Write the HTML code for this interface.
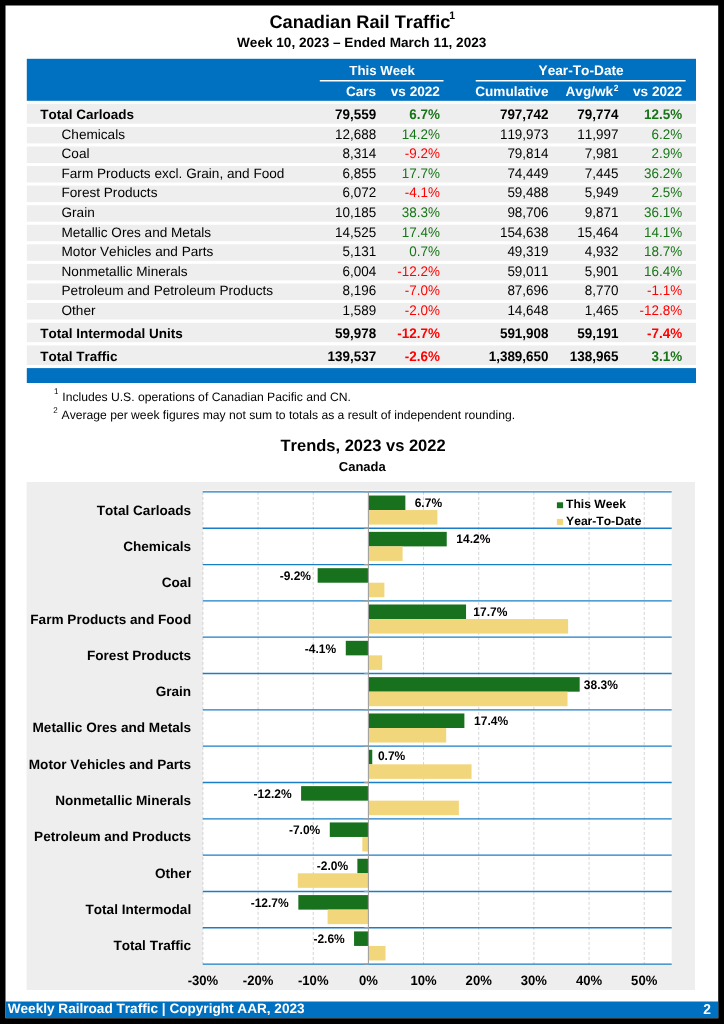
<!DOCTYPE html>
<html><head><meta charset="utf-8"><title>Canadian Rail Traffic</title>
<style>
html,body{margin:0;padding:0;background:#000;}
body{width:724px;height:1024px;overflow:hidden;}
svg{display:block;font-family:'Liberation Sans', Arial, sans-serif;will-change:transform;text-rendering:geometricPrecision;font-kerning:none;}
</style></head><body>
<svg width="724" height="1024" viewBox="0 0 724 1024">
<rect x="0.00" y="0.00" width="724.00" height="1024.00" fill="#000" />
<rect x="5.50" y="5.50" width="712.70" height="1012.70" fill="#fff" />
<text x="269.40" y="28.00" font-size="18.2" font-weight="bold" fill="#000" id="t1">Canadian Rail Traffic</text>
<text transform="translate(449.30 19.30) scale(1 1.04)" font-size="10.5" font-weight="bold" fill="#000" id="t1s">1</text>
<text x="361.70" y="47.10" font-size="13.6" font-weight="bold" text-anchor="middle" fill="#000" id="t2">Week 10, 2023 – Ended March 11, 2023</text>
<rect x="26.80" y="58.80" width="669.20" height="42.00" fill="#0070C0" />
<line x1="319.80" y1="80.80" x2="443.50" y2="80.80" stroke="#fff" stroke-width="1.5" />
<line x1="475.70" y1="80.80" x2="685.60" y2="80.80" stroke="#fff" stroke-width="1.5" />
<text x="382.10" y="74.50" font-size="13.25" font-weight="bold" text-anchor="middle" fill="#fff" >This Week</text>
<text x="581.10" y="74.50" font-size="13.7" font-weight="bold" text-anchor="middle" fill="#fff" >Year-To-Date</text>
<text x="376.20" y="96.30" font-size="13.6" font-weight="bold" text-anchor="end" fill="#fff" >Cars</text>
<text x="439.90" y="96.30" font-size="13.6" font-weight="bold" text-anchor="end" fill="#fff" >vs 2022</text>
<text x="548.50" y="96.30" font-size="13.6" font-weight="bold" text-anchor="end" fill="#fff" >Cumulative</text>
<text x="613.10" y="96.30" font-size="13.6" font-weight="bold" text-anchor="end" fill="#fff" >Avg/wk</text>
<text transform="translate(618.60 90.70) scale(1 1.04)" font-size="8.5" font-weight="bold" text-anchor="end" fill="#fff" >2</text>
<text x="682.20" y="96.30" font-size="13.6" font-weight="bold" text-anchor="end" fill="#fff" >vs 2022</text>
<rect x="26.80" y="103.80" width="669.20" height="19.90" fill="#EEEEEE" />
<text x="40.30" y="119.00" font-size="13.5" font-weight="bold" fill="#000" >Total Carloads</text>
<text transform="translate(376.20 119.00) scale(1 1.04)" font-size="13.45" font-weight="bold" text-anchor="end" fill="#000" >79,559</text>
<text transform="translate(439.90 119.00) scale(1 1.04)" font-size="13.45" font-weight="bold" text-anchor="end" fill="#167516" >6.7%</text>
<text transform="translate(548.50 119.00) scale(1 1.04)" font-size="13.45" font-weight="bold" text-anchor="end" fill="#000" >797,742</text>
<text transform="translate(618.40 119.00) scale(1 1.04)" font-size="13.45" font-weight="bold" text-anchor="end" fill="#000" >79,774</text>
<text transform="translate(682.20 119.00) scale(1 1.04)" font-size="13.45" font-weight="bold" text-anchor="end" fill="#167516" >12.5%</text>
<rect x="26.80" y="126.90" width="669.20" height="16.50" fill="#EEEEEE" />
<text x="61.50" y="138.70" font-size="13.6" fill="#000" >Chemicals</text>
<text transform="translate(376.20 138.70) scale(1 1.04)" font-size="13.45" text-anchor="end" fill="#000" >12,688</text>
<text transform="translate(439.90 138.70) scale(1 1.04)" font-size="13.45" text-anchor="end" fill="#167516" >14.2%</text>
<text transform="translate(548.50 138.70) scale(1 1.04)" font-size="13.45" text-anchor="end" fill="#000" >119,973</text>
<text transform="translate(618.40 138.70) scale(1 1.04)" font-size="13.45" text-anchor="end" fill="#000" >11,997</text>
<text transform="translate(682.20 138.70) scale(1 1.04)" font-size="13.45" text-anchor="end" fill="#167516" >6.2%</text>
<rect x="26.80" y="146.47" width="669.20" height="16.50" fill="#EEEEEE" />
<text x="61.50" y="158.27" font-size="13.6" fill="#000" >Coal</text>
<text transform="translate(376.20 158.27) scale(1 1.04)" font-size="13.45" text-anchor="end" fill="#000" >8,314</text>
<text transform="translate(439.90 158.27) scale(1 1.04)" font-size="13.45" text-anchor="end" fill="#FF0000" >-9.2%</text>
<text transform="translate(548.50 158.27) scale(1 1.04)" font-size="13.45" text-anchor="end" fill="#000" >79,814</text>
<text transform="translate(618.40 158.27) scale(1 1.04)" font-size="13.45" text-anchor="end" fill="#000" >7,981</text>
<text transform="translate(682.20 158.27) scale(1 1.04)" font-size="13.45" text-anchor="end" fill="#167516" >2.9%</text>
<rect x="26.80" y="166.04" width="669.20" height="16.50" fill="#EEEEEE" />
<text x="61.50" y="177.84" font-size="13.6" fill="#000" >Farm Products excl. Grain, and Food</text>
<text transform="translate(376.20 177.84) scale(1 1.04)" font-size="13.45" text-anchor="end" fill="#000" >6,855</text>
<text transform="translate(439.90 177.84) scale(1 1.04)" font-size="13.45" text-anchor="end" fill="#167516" >17.7%</text>
<text transform="translate(548.50 177.84) scale(1 1.04)" font-size="13.45" text-anchor="end" fill="#000" >74,449</text>
<text transform="translate(618.40 177.84) scale(1 1.04)" font-size="13.45" text-anchor="end" fill="#000" >7,445</text>
<text transform="translate(682.20 177.84) scale(1 1.04)" font-size="13.45" text-anchor="end" fill="#167516" >36.2%</text>
<rect x="26.80" y="185.61" width="669.20" height="16.50" fill="#EEEEEE" />
<text x="61.50" y="197.41" font-size="13.6" fill="#000" >Forest Products</text>
<text transform="translate(376.20 197.41) scale(1 1.04)" font-size="13.45" text-anchor="end" fill="#000" >6,072</text>
<text transform="translate(439.90 197.41) scale(1 1.04)" font-size="13.45" text-anchor="end" fill="#FF0000" >-4.1%</text>
<text transform="translate(548.50 197.41) scale(1 1.04)" font-size="13.45" text-anchor="end" fill="#000" >59,488</text>
<text transform="translate(618.40 197.41) scale(1 1.04)" font-size="13.45" text-anchor="end" fill="#000" >5,949</text>
<text transform="translate(682.20 197.41) scale(1 1.04)" font-size="13.45" text-anchor="end" fill="#167516" >2.5%</text>
<rect x="26.80" y="205.18" width="669.20" height="16.50" fill="#EEEEEE" />
<text x="61.50" y="216.98" font-size="13.6" fill="#000" >Grain</text>
<text transform="translate(376.20 216.98) scale(1 1.04)" font-size="13.45" text-anchor="end" fill="#000" >10,185</text>
<text transform="translate(439.90 216.98) scale(1 1.04)" font-size="13.45" text-anchor="end" fill="#167516" >38.3%</text>
<text transform="translate(548.50 216.98) scale(1 1.04)" font-size="13.45" text-anchor="end" fill="#000" >98,706</text>
<text transform="translate(618.40 216.98) scale(1 1.04)" font-size="13.45" text-anchor="end" fill="#000" >9,871</text>
<text transform="translate(682.20 216.98) scale(1 1.04)" font-size="13.45" text-anchor="end" fill="#167516" >36.1%</text>
<rect x="26.80" y="224.75" width="669.20" height="16.50" fill="#EEEEEE" />
<text x="61.50" y="236.55" font-size="13.6" fill="#000" >Metallic Ores and Metals</text>
<text transform="translate(376.20 236.55) scale(1 1.04)" font-size="13.45" text-anchor="end" fill="#000" >14,525</text>
<text transform="translate(439.90 236.55) scale(1 1.04)" font-size="13.45" text-anchor="end" fill="#167516" >17.4%</text>
<text transform="translate(548.50 236.55) scale(1 1.04)" font-size="13.45" text-anchor="end" fill="#000" >154,638</text>
<text transform="translate(618.40 236.55) scale(1 1.04)" font-size="13.45" text-anchor="end" fill="#000" >15,464</text>
<text transform="translate(682.20 236.55) scale(1 1.04)" font-size="13.45" text-anchor="end" fill="#167516" >14.1%</text>
<rect x="26.80" y="244.32" width="669.20" height="16.50" fill="#EEEEEE" />
<text x="61.50" y="256.12" font-size="13.6" fill="#000" >Motor Vehicles and Parts</text>
<text transform="translate(376.20 256.12) scale(1 1.04)" font-size="13.45" text-anchor="end" fill="#000" >5,131</text>
<text transform="translate(439.90 256.12) scale(1 1.04)" font-size="13.45" text-anchor="end" fill="#167516" >0.7%</text>
<text transform="translate(548.50 256.12) scale(1 1.04)" font-size="13.45" text-anchor="end" fill="#000" >49,319</text>
<text transform="translate(618.40 256.12) scale(1 1.04)" font-size="13.45" text-anchor="end" fill="#000" >4,932</text>
<text transform="translate(682.20 256.12) scale(1 1.04)" font-size="13.45" text-anchor="end" fill="#167516" >18.7%</text>
<rect x="26.80" y="263.89" width="669.20" height="16.50" fill="#EEEEEE" />
<text x="61.50" y="275.69" font-size="13.6" fill="#000" >Nonmetallic Minerals</text>
<text transform="translate(376.20 275.69) scale(1 1.04)" font-size="13.45" text-anchor="end" fill="#000" >6,004</text>
<text transform="translate(439.90 275.69) scale(1 1.04)" font-size="13.45" text-anchor="end" fill="#FF0000" >-12.2%</text>
<text transform="translate(548.50 275.69) scale(1 1.04)" font-size="13.45" text-anchor="end" fill="#000" >59,011</text>
<text transform="translate(618.40 275.69) scale(1 1.04)" font-size="13.45" text-anchor="end" fill="#000" >5,901</text>
<text transform="translate(682.20 275.69) scale(1 1.04)" font-size="13.45" text-anchor="end" fill="#167516" >16.4%</text>
<rect x="26.80" y="283.46" width="669.20" height="16.50" fill="#EEEEEE" />
<text x="61.50" y="295.26" font-size="13.6" fill="#000" >Petroleum and Petroleum Products</text>
<text transform="translate(376.20 295.26) scale(1 1.04)" font-size="13.45" text-anchor="end" fill="#000" >8,196</text>
<text transform="translate(439.90 295.26) scale(1 1.04)" font-size="13.45" text-anchor="end" fill="#FF0000" >-7.0%</text>
<text transform="translate(548.50 295.26) scale(1 1.04)" font-size="13.45" text-anchor="end" fill="#000" >87,696</text>
<text transform="translate(618.40 295.26) scale(1 1.04)" font-size="13.45" text-anchor="end" fill="#000" >8,770</text>
<text transform="translate(682.20 295.26) scale(1 1.04)" font-size="13.45" text-anchor="end" fill="#FF0000" >-1.1%</text>
<rect x="26.80" y="303.03" width="669.20" height="16.50" fill="#EEEEEE" />
<text x="61.50" y="314.83" font-size="13.6" fill="#000" >Other</text>
<text transform="translate(376.20 314.83) scale(1 1.04)" font-size="13.45" text-anchor="end" fill="#000" >1,589</text>
<text transform="translate(439.90 314.83) scale(1 1.04)" font-size="13.45" text-anchor="end" fill="#FF0000" >-2.0%</text>
<text transform="translate(548.50 314.83) scale(1 1.04)" font-size="13.45" text-anchor="end" fill="#000" >14,648</text>
<text transform="translate(618.40 314.83) scale(1 1.04)" font-size="13.45" text-anchor="end" fill="#000" >1,465</text>
<text transform="translate(682.20 314.83) scale(1 1.04)" font-size="13.45" text-anchor="end" fill="#FF0000" >-12.8%</text>
<rect x="26.80" y="322.80" width="669.20" height="19.40" fill="#EEEEEE" />
<text x="40.30" y="338.00" font-size="13.5" font-weight="bold" fill="#000" >Total Intermodal Units</text>
<text transform="translate(376.20 338.00) scale(1 1.04)" font-size="13.45" font-weight="bold" text-anchor="end" fill="#000" >59,978</text>
<text transform="translate(439.90 338.00) scale(1 1.04)" font-size="13.45" font-weight="bold" text-anchor="end" fill="#FF0000" >-12.7%</text>
<text transform="translate(548.50 338.00) scale(1 1.04)" font-size="13.45" font-weight="bold" text-anchor="end" fill="#000" >591,908</text>
<text transform="translate(618.40 338.00) scale(1 1.04)" font-size="13.45" font-weight="bold" text-anchor="end" fill="#000" >59,191</text>
<text transform="translate(682.20 338.00) scale(1 1.04)" font-size="13.45" font-weight="bold" text-anchor="end" fill="#FF0000" >-7.4%</text>
<rect x="26.80" y="345.40" width="669.20" height="19.60" fill="#EEEEEE" />
<text x="40.30" y="360.70" font-size="13.5" font-weight="bold" fill="#000" >Total Traffic</text>
<text transform="translate(376.20 360.70) scale(1 1.04)" font-size="13.45" font-weight="bold" text-anchor="end" fill="#000" >139,537</text>
<text transform="translate(439.90 360.70) scale(1 1.04)" font-size="13.45" font-weight="bold" text-anchor="end" fill="#FF0000" >-2.6%</text>
<text transform="translate(548.50 360.70) scale(1 1.04)" font-size="13.45" font-weight="bold" text-anchor="end" fill="#000" >1,389,650</text>
<text transform="translate(618.40 360.70) scale(1 1.04)" font-size="13.45" font-weight="bold" text-anchor="end" fill="#000" >138,965</text>
<text transform="translate(682.20 360.70) scale(1 1.04)" font-size="13.45" font-weight="bold" text-anchor="end" fill="#167516" >3.1%</text>
<rect x="26.80" y="368.10" width="669.20" height="14.90" fill="#0070C0" />
<text transform="translate(53.90 394.40) scale(1 1.04)" font-size="8" fill="#000" >1</text>
<text x="62.30" y="400.50" font-size="12.17" fill="#000" >Includes U.S. operations of Canadian Pacific and CN.</text>
<text transform="translate(53.30 412.70) scale(1 1.04)" font-size="8" fill="#000" >2</text>
<text x="61.60" y="418.60" font-size="12.15" fill="#000" >Average per week figures may not sum to totals as a result of independent rounding.</text>
<text x="280.50" y="450.50" font-size="16.5" font-weight="bold" fill="#000" >Trends, 2023 vs 2022</text>
<text x="338.80" y="471.20" font-size="13.0" font-weight="bold" fill="#000" >Canada</text>
<rect x="26.60" y="482.00" width="668.40" height="508.00" fill="#EEEEEE" />
<rect x="202.80" y="490.40" width="468.90" height="473.70" fill="#fff" />
<line x1="202.91" y1="491.90" x2="202.91" y2="964.10" stroke="#CCCCCC" stroke-width="0.85" stroke-dasharray="3,2"/>
<line x1="258.07" y1="491.90" x2="258.07" y2="964.10" stroke="#CCCCCC" stroke-width="0.85" stroke-dasharray="3,2"/>
<line x1="313.24" y1="491.90" x2="313.24" y2="964.10" stroke="#CCCCCC" stroke-width="0.85" stroke-dasharray="3,2"/>
<line x1="423.56" y1="491.90" x2="423.56" y2="964.10" stroke="#CCCCCC" stroke-width="0.85" stroke-dasharray="3,2"/>
<line x1="478.73" y1="491.90" x2="478.73" y2="964.10" stroke="#CCCCCC" stroke-width="0.85" stroke-dasharray="3,2"/>
<line x1="533.89" y1="491.90" x2="533.89" y2="964.10" stroke="#CCCCCC" stroke-width="0.85" stroke-dasharray="3,2"/>
<line x1="589.06" y1="491.90" x2="589.06" y2="964.10" stroke="#CCCCCC" stroke-width="0.85" stroke-dasharray="3,2"/>
<line x1="644.22" y1="491.90" x2="644.22" y2="964.10" stroke="#CCCCCC" stroke-width="0.85" stroke-dasharray="3,2"/>
<rect x="368.40" y="495.53" width="36.96" height="14.53" fill="#17711D" />
<rect x="368.40" y="510.06" width="68.96" height="14.53" fill="#F2D67C" />
<text x="191.20" y="514.85" font-size="13.6" font-weight="bold" text-anchor="end" fill="#000" >Total Carloads</text>
<text transform="translate(414.70 507.30) scale(1 1.04)" font-size="12" font-weight="bold" fill="#000" >6.7%</text>
<rect x="368.40" y="531.86" width="78.33" height="14.53" fill="#17711D" />
<rect x="368.40" y="546.38" width="34.20" height="14.53" fill="#F2D67C" />
<text x="191.20" y="551.12" font-size="13.6" font-weight="bold" text-anchor="end" fill="#000" >Chemicals</text>
<text transform="translate(456.30 543.32) scale(1 1.04)" font-size="12" font-weight="bold" fill="#000" >14.2%</text>
<rect x="317.65" y="568.18" width="50.75" height="14.53" fill="#17711D" />
<rect x="368.40" y="582.71" width="16.00" height="14.53" fill="#F2D67C" />
<text x="191.20" y="587.39" font-size="13.6" font-weight="bold" text-anchor="end" fill="#000" >Coal</text>
<text transform="translate(311.00 580.05) scale(1 1.04)" font-size="12" font-weight="bold" text-anchor="end" fill="#000" >-9.2%</text>
<rect x="368.40" y="604.50" width="97.64" height="14.53" fill="#17711D" />
<rect x="368.40" y="619.03" width="199.70" height="14.53" fill="#F2D67C" />
<text x="191.20" y="623.66" font-size="13.6" font-weight="bold" text-anchor="end" fill="#000" >Farm Products and Food</text>
<text transform="translate(473.30 616.27) scale(1 1.04)" font-size="12" font-weight="bold" fill="#000" >17.7%</text>
<rect x="345.78" y="640.82" width="22.62" height="14.53" fill="#17711D" />
<rect x="368.40" y="655.35" width="13.79" height="14.53" fill="#F2D67C" />
<text x="191.20" y="659.93" font-size="13.6" font-weight="bold" text-anchor="end" fill="#000" >Forest Products</text>
<text transform="translate(336.10 652.89) scale(1 1.04)" font-size="12" font-weight="bold" text-anchor="end" fill="#000" >-4.1%</text>
<rect x="368.40" y="677.15" width="211.28" height="14.53" fill="#17711D" />
<rect x="368.40" y="691.68" width="199.14" height="14.53" fill="#F2D67C" />
<text x="191.20" y="696.20" font-size="13.6" font-weight="bold" text-anchor="end" fill="#000" >Grain</text>
<text transform="translate(583.80 689.22) scale(1 1.04)" font-size="12" font-weight="bold" fill="#000" >38.3%</text>
<rect x="368.40" y="713.47" width="95.99" height="14.53" fill="#17711D" />
<rect x="368.40" y="728.00" width="77.78" height="14.53" fill="#F2D67C" />
<text x="191.20" y="732.47" font-size="13.6" font-weight="bold" text-anchor="end" fill="#000" >Metallic Ores and Metals</text>
<text transform="translate(474.10 725.04) scale(1 1.04)" font-size="12" font-weight="bold" fill="#000" >17.4%</text>
<rect x="368.40" y="749.79" width="3.86" height="14.53" fill="#17711D" />
<rect x="368.40" y="764.32" width="103.16" height="14.53" fill="#F2D67C" />
<text x="191.20" y="768.74" font-size="13.6" font-weight="bold" text-anchor="end" fill="#000" >Motor Vehicles and Parts</text>
<text transform="translate(377.90 760.36) scale(1 1.04)" font-size="12" font-weight="bold" fill="#000" >0.7%</text>
<rect x="301.10" y="786.12" width="67.30" height="14.53" fill="#17711D" />
<rect x="368.40" y="800.65" width="90.47" height="14.53" fill="#F2D67C" />
<text x="191.20" y="805.01" font-size="13.6" font-weight="bold" text-anchor="end" fill="#000" >Nonmetallic Minerals</text>
<text transform="translate(291.60 797.88) scale(1 1.04)" font-size="12" font-weight="bold" text-anchor="end" fill="#000" >-12.2%</text>
<rect x="329.78" y="822.44" width="38.62" height="14.53" fill="#17711D" />
<rect x="362.33" y="836.97" width="6.07" height="14.53" fill="#F2D67C" />
<text x="191.20" y="841.28" font-size="13.6" font-weight="bold" text-anchor="end" fill="#000" >Petroleum and Products</text>
<text transform="translate(320.30 834.01) scale(1 1.04)" font-size="12" font-weight="bold" text-anchor="end" fill="#000" >-7.0%</text>
<rect x="357.37" y="858.76" width="11.03" height="14.53" fill="#17711D" />
<rect x="297.79" y="873.29" width="70.61" height="14.53" fill="#F2D67C" />
<text x="191.20" y="877.55" font-size="13.6" font-weight="bold" text-anchor="end" fill="#000" >Other</text>
<text transform="translate(348.10 869.73) scale(1 1.04)" font-size="12" font-weight="bold" text-anchor="end" fill="#000" >-2.0%</text>
<rect x="298.34" y="895.09" width="70.06" height="14.53" fill="#17711D" />
<rect x="327.58" y="909.62" width="40.82" height="14.53" fill="#F2D67C" />
<text x="191.20" y="913.82" font-size="13.6" font-weight="bold" text-anchor="end" fill="#000" >Total Intermodal</text>
<text transform="translate(288.70 906.95) scale(1 1.04)" font-size="12" font-weight="bold" text-anchor="end" fill="#000" >-12.7%</text>
<rect x="354.06" y="931.41" width="14.34" height="14.53" fill="#17711D" />
<rect x="368.40" y="945.94" width="17.10" height="14.53" fill="#F2D67C" />
<text x="191.20" y="950.09" font-size="13.6" font-weight="bold" text-anchor="end" fill="#000" >Total Traffic</text>
<text transform="translate(344.80 943.18) scale(1 1.04)" font-size="12" font-weight="bold" text-anchor="end" fill="#000" >-2.6%</text>
<line x1="202.80" y1="491.90" x2="671.70" y2="491.90" stroke="#0070C0" stroke-width="1.35" stroke-opacity="0.9"/>
<line x1="364.20" y1="491.90" x2="368.40" y2="491.90" stroke="#A0A0A0" stroke-width="1.2" />
<line x1="202.80" y1="528.22" x2="671.70" y2="528.22" stroke="#0070C0" stroke-width="1.35" stroke-opacity="0.9"/>
<line x1="364.20" y1="528.22" x2="368.40" y2="528.22" stroke="#A0A0A0" stroke-width="1.2" />
<line x1="202.80" y1="564.55" x2="671.70" y2="564.55" stroke="#0070C0" stroke-width="1.35" stroke-opacity="0.9"/>
<line x1="364.20" y1="564.55" x2="368.40" y2="564.55" stroke="#A0A0A0" stroke-width="1.2" />
<line x1="202.80" y1="600.87" x2="671.70" y2="600.87" stroke="#0070C0" stroke-width="1.35" stroke-opacity="0.9"/>
<line x1="364.20" y1="600.87" x2="368.40" y2="600.87" stroke="#A0A0A0" stroke-width="1.2" />
<line x1="202.80" y1="637.19" x2="671.70" y2="637.19" stroke="#0070C0" stroke-width="1.35" stroke-opacity="0.9"/>
<line x1="364.20" y1="637.19" x2="368.40" y2="637.19" stroke="#A0A0A0" stroke-width="1.2" />
<line x1="202.80" y1="673.52" x2="671.70" y2="673.52" stroke="#0070C0" stroke-width="1.35" stroke-opacity="0.9"/>
<line x1="364.20" y1="673.52" x2="368.40" y2="673.52" stroke="#A0A0A0" stroke-width="1.2" />
<line x1="202.80" y1="709.84" x2="671.70" y2="709.84" stroke="#0070C0" stroke-width="1.35" stroke-opacity="0.9"/>
<line x1="364.20" y1="709.84" x2="368.40" y2="709.84" stroke="#A0A0A0" stroke-width="1.2" />
<line x1="202.80" y1="746.16" x2="671.70" y2="746.16" stroke="#0070C0" stroke-width="1.35" stroke-opacity="0.9"/>
<line x1="364.20" y1="746.16" x2="368.40" y2="746.16" stroke="#A0A0A0" stroke-width="1.2" />
<line x1="202.80" y1="782.48" x2="671.70" y2="782.48" stroke="#0070C0" stroke-width="1.35" stroke-opacity="0.9"/>
<line x1="364.20" y1="782.48" x2="368.40" y2="782.48" stroke="#A0A0A0" stroke-width="1.2" />
<line x1="202.80" y1="818.81" x2="671.70" y2="818.81" stroke="#0070C0" stroke-width="1.35" stroke-opacity="0.9"/>
<line x1="364.20" y1="818.81" x2="368.40" y2="818.81" stroke="#A0A0A0" stroke-width="1.2" />
<line x1="202.80" y1="855.13" x2="671.70" y2="855.13" stroke="#0070C0" stroke-width="1.35" stroke-opacity="0.9"/>
<line x1="364.20" y1="855.13" x2="368.40" y2="855.13" stroke="#A0A0A0" stroke-width="1.2" />
<line x1="202.80" y1="891.45" x2="671.70" y2="891.45" stroke="#0070C0" stroke-width="1.35" stroke-opacity="0.9"/>
<line x1="364.20" y1="891.45" x2="368.40" y2="891.45" stroke="#A0A0A0" stroke-width="1.2" />
<line x1="202.80" y1="927.78" x2="671.70" y2="927.78" stroke="#0070C0" stroke-width="1.35" stroke-opacity="0.9"/>
<line x1="364.20" y1="927.78" x2="368.40" y2="927.78" stroke="#A0A0A0" stroke-width="1.2" />
<line x1="202.80" y1="964.10" x2="671.70" y2="964.10" stroke="#0070C0" stroke-width="1.35" stroke-opacity="0.9"/>
<line x1="364.20" y1="964.10" x2="368.40" y2="964.10" stroke="#A0A0A0" stroke-width="1.2" />
<line x1="368.40" y1="491.90" x2="368.40" y2="964.10" stroke="#A0A0A0" stroke-width="1.1" />
<text transform="translate(202.91 984.90) scale(1 1.04)" font-size="13.1" font-weight="bold" text-anchor="middle" fill="#000" >-30%</text>
<text transform="translate(258.07 984.90) scale(1 1.04)" font-size="13.1" font-weight="bold" text-anchor="middle" fill="#000" >-20%</text>
<text transform="translate(313.24 984.90) scale(1 1.04)" font-size="13.1" font-weight="bold" text-anchor="middle" fill="#000" >-10%</text>
<text transform="translate(368.40 984.90) scale(1 1.04)" font-size="13.1" font-weight="bold" text-anchor="middle" fill="#000" >0%</text>
<text transform="translate(423.56 984.90) scale(1 1.04)" font-size="13.1" font-weight="bold" text-anchor="middle" fill="#000" >10%</text>
<text transform="translate(478.73 984.90) scale(1 1.04)" font-size="13.1" font-weight="bold" text-anchor="middle" fill="#000" >20%</text>
<text transform="translate(533.89 984.90) scale(1 1.04)" font-size="13.1" font-weight="bold" text-anchor="middle" fill="#000" >30%</text>
<text transform="translate(589.06 984.90) scale(1 1.04)" font-size="13.1" font-weight="bold" text-anchor="middle" fill="#000" >40%</text>
<text transform="translate(644.22 984.90) scale(1 1.04)" font-size="13.1" font-weight="bold" text-anchor="middle" fill="#000" >50%</text>
<rect x="556.90" y="502.30" width="6.20" height="5.90" fill="#17711D" />
<text x="566.10" y="508.20" font-size="12.1" font-weight="bold" fill="#000" >This Week</text>
<rect x="556.90" y="518.90" width="6.20" height="6.00" fill="#F2D67C" />
<text x="566.10" y="525.20" font-size="12.1" font-weight="bold" fill="#000" >Year-To-Date</text>
<rect x="5.50" y="1001.50" width="712.70" height="16.50" fill="#0070C0" />
<text x="7.70" y="1013.30" font-size="13.6" font-weight="bold" fill="#fff" >Weekly Railroad Traffic | Copyright AAR, 2023</text>
<text transform="translate(711.00 1013.60) scale(1 1.04)" font-size="13.8" font-weight="bold" text-anchor="end" fill="#fff" >2</text>
</svg>
</body></html>
